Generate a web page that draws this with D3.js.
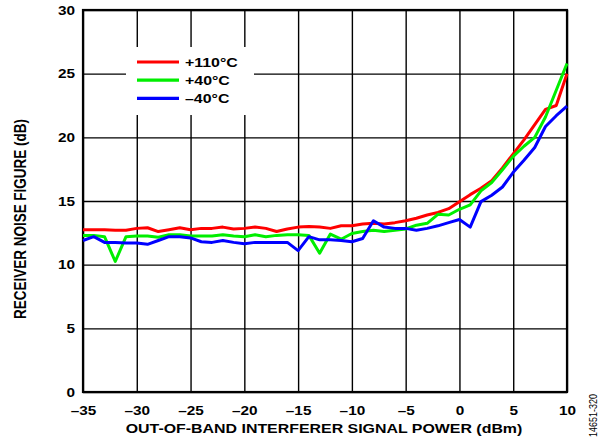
<!DOCTYPE html>
<html>
<head>
<meta charset="utf-8">
<script src="https://cdn.jsdelivr.net/npm/d3@7"></script>
<style>
  body { margin: 0; background: #fff; }
  svg text { font-family: "Liberation Sans", Arial, sans-serif; font-weight: bold; fill: #000; }
</style>
</head>
<body>
<div id="viz"></div>
<script>
//Datos
const power = d3.range(-35, 11, 1);

const nf110 = [12.75, 12.75, 12.75, 12.7, 12.7, 12.85, 12.9, 12.6, 12.75, 12.9,
  12.75, 12.85, 12.85, 12.95, 12.8, 12.85, 12.95, 12.85, 12.6, 12.8,
  12.95, 13.0, 12.95, 12.85, 13.05, 13.05, 13.2, 13.25, 13.2, 13.3,
  13.45, 13.65, 13.9, 14.1, 14.4, 14.95, 15.5, 16.0, 16.6, 17.6,
  18.7, 19.8, 21.0, 22.2, 22.5, 25.0];

const nf40 = [12.3, 12.3, 12.2, 10.25, 12.2, 12.25, 12.25, 12.15, 12.35, 12.35,
  12.25, 12.25, 12.25, 12.35, 12.25, 12.2, 12.35, 12.2, 12.3, 12.35,
  12.35, 12.3, 10.9, 12.4, 12.0, 12.45, 12.6, 12.7, 12.6, 12.7,
  12.8, 13.1, 13.25, 13.95, 13.9, 14.35, 14.7, 15.8, 16.45, 17.45,
  18.5, 19.3, 20.0, 21.6, 23.7, 25.8];

const nfm40 = [11.9, 12.2, 11.75, 11.75, 11.7, 11.7, 11.6, 11.9, 12.2, 12.2,
  12.1, 11.8, 11.75, 11.9, 11.75, 11.65, 11.75, 11.75, 11.75, 11.75,
  11.1, 12.2, 11.95, 11.95, 11.9, 11.8, 12.05, 13.45, 12.95, 12.85,
  12.85, 12.7, 12.85, 13.05, 13.3, 13.55, 12.95, 14.95, 15.45, 16.1,
  17.25, 18.2, 19.2, 20.85, 21.7, 22.45];

const xTicks = [-35, -30, -25, -20, -15, -10, -5, 0, 5, 10];
const yTicks = [0, 5, 10, 15, 20, 25, 30];

const series = [
  { name: '+110°C', color: '#ff0000', values: nf110 },
  { name: '+40°C', color: '#00ee00', values: nf40 },
  { name: '\u201340°C', color: '#0000ff', values: nfm40 }
];

//El original está algo estirado en horizontal
const SX = 1.18;

let margin = {top: 10, right: 35, bottom: 52, left: 83},
    width = 602 - margin.left - margin.right,
    height = 444 - margin.top - margin.bottom;

let root = d3.select('#viz')
  .append('svg')
    .attr('width', 602)
    .attr('height', 444);

let svg = root.append('g')
    .attr('transform', 'translate(' + margin.left + ',' + margin.top + ')');

let x = d3.scaleLinear().domain([-35, 10]).range([0, width]);
let y = d3.scaleLinear().domain([0, 30]).range([height, 0]);

const fmt = d => d < 0 ? '\u2013' + Math.abs(d) : String(d);

//Rejilla
svg.append('g')
  .call(d3.axisBottom(x).tickValues(xTicks).tickSize(height).tickFormat(''))
  .call(g => g.select('.domain').remove())
  .call(g => g.selectAll('line').attr('stroke', '#000').attr('stroke-width', 1.4));

svg.append('g')
  .call(d3.axisLeft(y).tickValues(yTicks).tickSize(-width).tickFormat(''))
  .call(g => g.select('.domain').remove())
  .call(g => g.selectAll('line').attr('stroke', '#000').attr('stroke-width', 1.4));

//Etiquetas de ejes
svg.append('g')
  .attr('transform', 'translate(0,' + height + ')')
  .call(d3.axisBottom(x).tickValues(xTicks).tickSize(0).tickPadding(14).tickFormat(fmt))
  .call(g => g.select('.domain').remove())
  .call(g => g.selectAll('text')
    .attr('font-size', 13)
    .attr('transform', 'scale(' + SX + ',1)'));

svg.append('g')
  .call(d3.axisLeft(y).tickValues(yTicks).tickSize(0).tickFormat(fmt))
  .call(g => g.select('.domain').remove())
  .call(g => g.selectAll('text')
    .attr('font-size', 13)
    .attr('x', 0)
    .attr('transform', 'translate(-8,0) scale(' + SX + ',1)'));

//Marco
svg.append('rect')
  .attr('x', 0).attr('y', 0)
  .attr('width', width).attr('height', height)
  .attr('fill', 'none').attr('stroke', '#000').attr('stroke-width', 2.2);

//Leyenda (caja blanca sobre la rejilla)
let legend = svg.append('g');
legend.append('rect')
  .attr('x', 43).attr('y', 37)
  .attr('width', 128).attr('height', 68)
  .attr('fill', '#fff');

series.forEach(function(s, i) {
  let ly = 52 + i * 18.2;
  legend.append('line')
    .attr('x1', 54).attr('x2', 96)
    .attr('y1', ly).attr('y2', ly)
    .attr('stroke', s.color).attr('stroke-width', 3.2);
  legend.append('text')
    .attr('transform', 'translate(102,' + (ly + 5) + ') scale(' + SX + ',1)')
    .attr('font-size', 13.5)
    .text(s.name);
});

//Curvas
let line = d3.line()
  .x((d, i) => x(power[i]))
  .y(d => y(d));

series.forEach(function(s) {
  svg.append('path')
    .datum(s.values)
    .attr('d', line)
    .attr('fill', 'none')
    .attr('stroke', s.color)
    .attr('stroke-width', 3)
    .attr('stroke-linejoin', 'round');
});

//Títulos
root.append('text')
  .attr('transform', 'translate(324,433) scale(' + SX + ',1)')
  .attr('text-anchor', 'middle')
  .attr('font-size', 13.5)
  .text('OUT-OF-BAND INTERFERER SIGNAL POWER (dBm)');

root.append('text')
  .attr('transform', 'translate(26,219) scale(' + SX + ',1) rotate(-90)')
  .attr('text-anchor', 'middle')
  .attr('font-size', 13.5)
  .text('RECEIVER NOISE FIGURE (dB)');

root.append('text')
  .attr('transform', 'translate(597,437) scale(' + SX + ',1) rotate(-90)')
  .attr('text-anchor', 'start')
  .attr('font-size', 9)
  .attr('font-weight', 'normal')
  .style('font-weight', 'normal')
  .text('14651-320');
</script>
</body>
</html>
